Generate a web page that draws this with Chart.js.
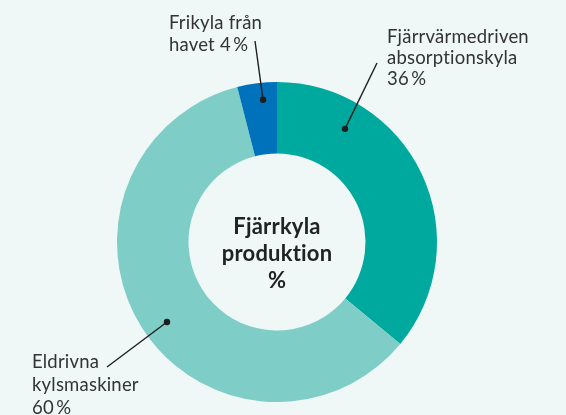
<!DOCTYPE html>
<html>
<head>
<meta charset="utf-8">
<script src="https://cdn.jsdelivr.net/npm/chart.js@4/dist/chart.umd.min.js"></script>
<style>
  html, body { margin: 0; padding: 0; background: #eff8f7; }
  #wrap { width: 566px; height: 415px; }
</style>
</head>
<body>
<div id="wrap"><canvas id="chart" width="566" height="415"></canvas></div>
<script>
const categories = ['Fjärrvärmedriven absorptionskyla', 'Eldrivna kylsmaskiner', 'Frikyla från havet'];
const shares = [36, 60, 4];
const sliceColors = ['#00a99d', '#7fcdc7', '#0072bb'];
const labelLines = [
  ['Fjärrvärmedriven', 'absorptionskyla', '36\u2009%'],
  ['Eldrivna', 'kylsmaskiner', '60\u2009%'],
  ['Frikyla från', 'havet 4\u2009%']
];
const centerLines = ['Fjärrkyla', 'produktion', '%'];

// where each callout sits: dot (angle deg from top, radius px), line end and text start
const callouts = [
  { dotAngle: 31, dotR: 132, lineEnd: [377, 63], text: [387, 43], lh: 21 },
  { dotAngle: 234, dotR: 136, lineEnd: [107, 367], text: [32, 368], lh: 23 },
  { dotAngle: 354.4, dotR: 143, lineEnd: [255, 41], text: [169, 29], lh: 22 }
];

const calloutPlugin = {
  id: 'callouts',
  afterDraw(chart) {
    const ctx = chart.ctx;
    const arc = chart.getDatasetMeta(0).data[0];
    const cx = arc.x, cy = arc.y;
    ctx.save();
    // a tiny letter spacing keeps the "ti" ligature away
    ctx.letterSpacing = '0.2px';
    callouts.forEach((c, i) => {
      const a = c.dotAngle * Math.PI / 180;
      const dx = cx + Math.sin(a) * c.dotR;
      const dy = cy - Math.cos(a) * c.dotR;
      ctx.strokeStyle = '#1e1e1e';
      ctx.lineWidth = 1.4;
      ctx.beginPath();
      ctx.moveTo(dx, dy);
      ctx.lineTo(c.lineEnd[0], c.lineEnd[1]);
      ctx.stroke();
      ctx.fillStyle = '#1e1e1e';
      ctx.beginPath();
      ctx.arc(dx, dy, 3.2, 0, Math.PI * 2);
      ctx.fill();
      ctx.fillStyle = '#333333';
      ctx.font = '18.5px Lato';
      ctx.textAlign = 'left';
      ctx.textBaseline = 'alphabetic';
      labelLines[i].forEach((t, k) => {
        ctx.fillText(t, c.text[0], c.text[1] + k * c.lh);
      });
    });
    ctx.fillStyle = '#222222';
    ctx.font = 'bold 22px Lato';
    ctx.textAlign = 'center';
    centerLines.forEach((t, k) => {
      ctx.fillText(t, cx, cy + 5 + (k - 0.5) * 27);
    });
    ctx.restore();
  }
};

new Chart(document.getElementById('chart'), {
  type: 'doughnut',
  data: {
    labels: categories,
    datasets: [{
      data: shares,
      backgroundColor: sliceColors,
      borderWidth: 0
    }]
  },
  options: {
    responsive: false,
    animation: false,
    cutout: '55.3%',
    layout: { padding: { top: 82, bottom: 13, left: 117, right: 129 } },
    plugins: {
      legend: { display: false },
      tooltip: { enabled: false }
    }
  },
  plugins: [calloutPlugin]
});
</script>
</body>
</html>
